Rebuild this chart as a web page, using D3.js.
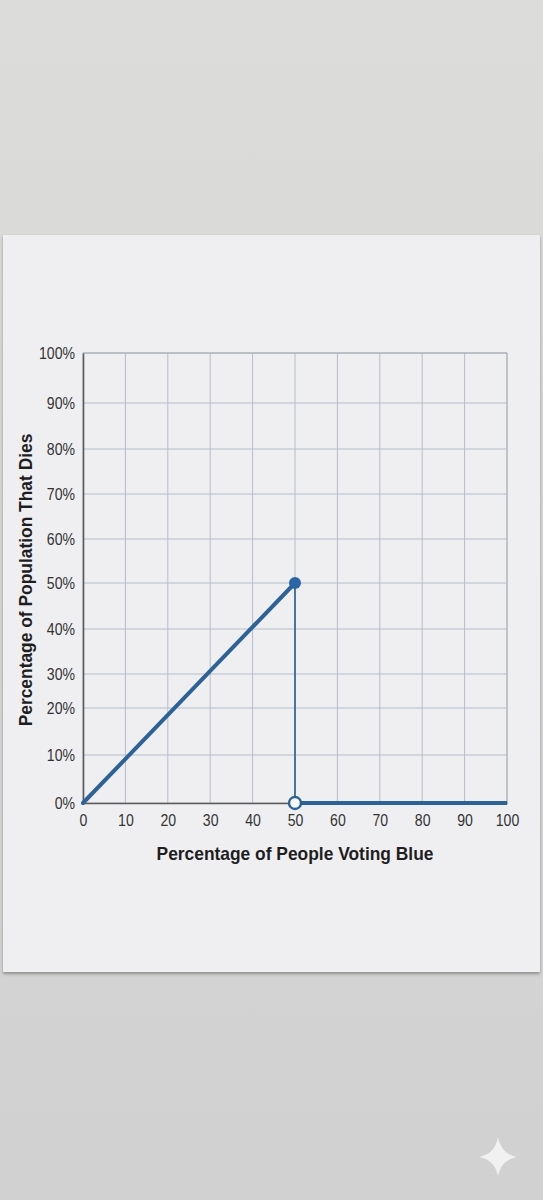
<!DOCTYPE html>
<html>
<head>
<meta charset="utf-8">
<script src="https://cdn.jsdelivr.net/npm/d3@7"></script>
<style>
    html, body {margin:0; padding:0; background:#d8d8d7;}
    svg {display:block;}
    .tick-label {font-family:"Liberation Sans",Arial,sans-serif; font-size:16px; fill:#333;}
    .title {font-family:"Liberation Sans",Arial,sans-serif; font-weight:bold; font-size:19px; fill:#1e1e1e;}
</style>
</head>
<body>
<div class="canvas" id="canvas"></div>
<script>

//data
var xTicks = [0,10,20,30,40,50,60,70,80,90,100];
var yTicks = [0,10,20,30,40,50,60,70,80,90,100];
var xTitle = 'Percentage of People Voting Blue';
var yTitle = 'Percentage of Population That Dies';

var risingSeries = [[0,0],[50,50]];
var dropSeries = [[50,50],[50,0]];
var flatSeries = [[50,0],[100,0]];
var closedPoints = [[50,50]];
var openPoints = [[50,0]];

//the printed y axis is not evenly spaced, these are where each tick sits on the page
var yTickPos = [803,755,708,674,629,583,539,494,449,403,353];

var W = 543, H = 1200;
var paper = {x:3, y:235, w:537, h:737};
var plotL = 83, plotR = 507;
var narrow = 0.88; //the print uses a condensed face, squeeze the regular one

var svg = d3.select('.canvas')
    .append('svg')
    .attr('width', W)
    .attr('height', H);

var defs = svg.append('defs');
var bg = defs.append('linearGradient').attr('id','bg')
    .attr('x1',0).attr('y1',0).attr('x2',0).attr('y2',1);
bg.append('stop').attr('offset','0%').attr('stop-color','#dcdcda');
bg.append('stop').attr('offset','100%').attr('stop-color','#d1d1d1');

var shadow = defs.append('filter').attr('id','shadow')
    .attr('x','-5%').attr('y','-5%').attr('width','110%').attr('height','112%');
shadow.append('feDropShadow')
    .attr('dx',0).attr('dy',2).attr('stdDeviation',1.5)
    .attr('flood-color','#555').attr('flood-opacity',0.55);

svg.append('rect').attr('width',W).attr('height',H).attr('fill','url(#bg)');

svg.append('rect')
    .attr('x',paper.x).attr('y',paper.y)
    .attr('width',paper.w).attr('height',paper.h)
    .attr('fill','#efeff2')
    .attr('filter','url(#shadow)');

//scales
var x = d3.scaleLinear().domain([0,100]).range([plotL,plotR]);
var y = d3.scaleLinear().domain(yTicks).range(yTickPos);

var plot = svg.append('g').attr('class','plot');

//grid
plot.append('g').attr('class','grid-x')
    .selectAll('line')
    .data(xTicks)
    .enter()
    .append('line')
    .attr('x1', function(d){return x(d);})
    .attr('x2', function(d){return x(d);})
    .attr('y1', y(0))
    .attr('y2', y(100))
    .style('stroke', function(d){return d==100?'#aab1b8':'#b3bec9';})
    .style('stroke-width', function(d){return d==100?1.4:1;});

plot.append('g').attr('class','grid-y')
    .selectAll('line')
    .data(yTicks)
    .enter()
    .append('line')
    .attr('x1', x(0))
    .attr('x2', x(100))
    .attr('y1', function(d){return y(d);})
    .attr('y2', function(d){return y(d);})
    .style('stroke', function(d){return d==100?'#aab1b8':'#b3bec9';})
    .style('stroke-width', function(d){return d==100?1.4:1;});

//axes
var xAxis = d3.axisBottom(x)
    .tickValues(xTicks)
    .tickSize(0)
    .tickPadding(12)
    .tickFormat(function(d){return d;});

var yAxis = d3.axisLeft(y)
    .tickValues(yTicks)
    .tickSize(0)
    .tickPadding(8)
    .tickFormat(function(d){return d+'%';});

var gx = plot.append('g').attr('class','axis-x')
    .attr('transform','translate(0,'+y(0)+')')
    .call(xAxis);
var gy = plot.append('g').attr('class','axis-y')
    .attr('transform','translate('+x(0)+',0)')
    .call(yAxis);

[gx, gy].forEach(function(g){
    g.attr('font-size',null).attr('font-family',null);
    g.select('.domain').style('stroke','#5a5a5a').style('stroke-width',1.6);
    g.selectAll('.tick text')
        .attr('class','tick-label')
        .each(function(){
            var t = d3.select(this);
            t.attr('textLength', this.getComputedTextLength()*narrow)
             .attr('lengthAdjust','spacingAndGlyphs');
        });
});

//titles
var xt = plot.append('text')
    .attr('class','title')
    .attr('x', 295)
    .attr('y', 860)
    .attr('text-anchor','middle')
    .text(xTitle);

var yt = plot.append('text')
    .attr('class','title')
    .attr('transform','translate(32,580) rotate(-90)')
    .attr('text-anchor','middle')
    .text(yTitle);

[xt, yt].forEach(function(t){
    t.attr('textLength', t.node().getComputedTextLength()*0.915)
     .attr('lengthAdjust','spacingAndGlyphs');
});

//the function
var line = d3.line()
    .x(function(d){return x(d[0]);})
    .y(function(d){return y(d[1]);});

var blue = '#2d6297';

plot.append('path')
    .datum(dropSeries)
    .attr('d', line)
    .style('fill','none')
    .style('stroke','#3a6a98')
    .style('stroke-width',1.8);

plot.append('path')
    .datum(risingSeries)
    .attr('d', line)
    .style('fill','none')
    .style('stroke',blue)
    .style('stroke-width',4)
    .style('stroke-linecap','round');

plot.append('path')
    .datum(flatSeries)
    .attr('d', line)
    .style('fill','none')
    .style('stroke',blue)
    .style('stroke-width',4);

plot.selectAll('.closed')
    .data(closedPoints)
    .enter()
    .append('circle').attr('class','closed')
    .attr('cx', function(d){return x(d[0]);})
    .attr('cy', function(d){return y(d[1]);})
    .attr('r', 6)
    .style('fill','#2a66a6');

plot.selectAll('.open')
    .data(openPoints)
    .enter()
    .append('circle').attr('class','open')
    .attr('cx', function(d){return x(d[0]);})
    .attr('cy', function(d){return y(d[1]);})
    .attr('r', 6)
    .style('fill','#f7f8fb')
    .style('stroke',blue)
    .style('stroke-width',2.4);

//sparkle in the corner
svg.append('path')
    .attr('transform','translate(498,1157)')
    .attr('d','M0,-20 Q3,-3 19,0 Q3,3 0,19 Q-3,3 -19,0 Q-3,-3 0,-20Z')
    .style('fill','#f1f1f1');

</script>
</body>
</html>
